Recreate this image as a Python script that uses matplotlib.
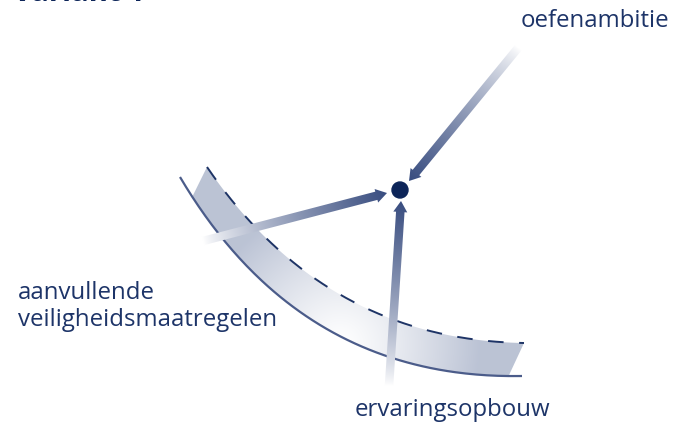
import numpy as np
import matplotlib
matplotlib.use("Agg")
import matplotlib.pyplot as plt
from matplotlib.patches import Polygon, Circle

# labels of the diagram
title = "Variant 1"
labels = ["oefenambitie", "aanvullende\nveiligheidsmaatregelen", "ervaringsopbouw"]

# geometry (pixel space, y down)
solid_curve = [(180, 177), (300, 380), (522, 376)]      # quadratic bezier
dashed_curve = [(207, 167), (325, 340), (524, 343)]     # quadratic bezier
target = (400, 190)
arrow_tails = [(518, 48), (203, 241), (389, 386)]
arrow_tips = [(409, 181), (387, 193), (401, 201)]

NAVY = "#0d2559"
TEXT = "#1d3468"
ARROW = np.array([0.22, 0.30, 0.50])
BAND = np.array([0.735, 0.765, 0.835])
LINE = "#4b5c8a"


def bezier(pts, t0=0.0, t1=1.0, n=200):
    p = np.array(pts, dtype=float)
    t = np.linspace(t0, t1, n)[:, None]
    return (1 - t) ** 2 * p[0] + 2 * t * (1 - t) * p[1] + t ** 2 * p[2]


def grad_fill(ax, patch, func, extent):
    x0, x1, y0, y1 = extent
    xs = np.linspace(x0, x1, 300)
    ys = np.linspace(y0, y1, 300)
    X, Y = np.meshgrid(xs, ys)
    img = func(X, Y)
    im = ax.imshow(img, extent=(x0, x1, y1, y0), origin="upper",
                   aspect="auto", interpolation="bilinear", zorder=patch.get_zorder())
    im.set_clip_path(patch)


def grad_arrow(ax, tail, tip, w=8.5, hw=14, hl=11):
    tail = np.array(tail, float)
    tip = np.array(tip, float)
    d = tip - tail
    L = np.hypot(*d)
    u = d / L
    n = np.array([-u[1], u[0]])
    base = tip - u * hl
    pts = [tail + n * w / 2, base + n * w / 2, base + n * hw / 2, tip,
           base - n * hw / 2, base - n * w / 2, tail - n * w / 2]
    patch = Polygon(pts, closed=True, facecolor="none", edgecolor="none", zorder=4)
    ax.add_patch(patch)
    xs = [p[0] for p in pts]
    ys = [p[1] for p in pts]

    def f(X, Y):
        t = ((X - tail[0]) * u[0] + (Y - tail[1]) * u[1]) / L
        t = np.clip(t, 0, 1) ** 0.8
        return (1 - t[..., None]) * 1.0 + t[..., None] * ARROW

    grad_fill(ax, patch, f, (min(xs) - 2, max(xs) + 2, min(ys) - 2, max(ys) + 2))


fig = plt.figure(figsize=(6.75, 4.25), dpi=100)
ax = fig.add_axes([0, 0, 1, 1])
ax.axis("off")

# shaded band between the dashed and solid curves
top = bezier(dashed_curve)
bottom = bezier(solid_curve, 0.05, 0.97)
band_pts = np.vstack([top, [[510, 373]], bottom[::-1]])
band = Polygon(band_pts, closed=True, facecolor="none", edgecolor="none", zorder=1)
ax.add_patch(band)


def band_color(X, Y):
    r = np.hypot(X - 340, Y - 345)
    w = np.clip(r / 140, 0, 1) ** 1.2
    return (1 - w[..., None]) * 1.0 + w[..., None] * BAND


grad_fill(ax, band, band_color, (170, 540, 150, 390))

ax.plot(top[:, 0], top[:, 1], color="#1e3466", lw=1.4, dashes=[8, 8], zorder=2)
sc = bezier(solid_curve)
ax.plot(sc[:, 0], sc[:, 1], color=LINE, lw=1.6, solid_capstyle="butt", zorder=3)

for tl, tp in zip(arrow_tails, arrow_tips):
    grad_arrow(ax, tl, tp)

ax.add_patch(Circle(target, 8, color=NAVY, zorder=5))

font = "Open Sans"
fs = 17.3
ax.text(669, 27, labels[0], ha="right", va="baseline", fontsize=fs,
        color=TEXT, family=font)
ax.text(18, 326, labels[1], ha="left", va="baseline", fontsize=fs,
        color=TEXT, family=font, linespacing=1.15)
ax.text(355, 416, labels[2], ha="left", va="baseline", fontsize=fs,
        color=TEXT, family=font)
# page title, mostly above the visible area
ax.text(13, 1, title, ha="left", va="baseline", fontsize=21,
        fontweight="bold", color=NAVY, family=font)

ax.set_xlim(0, 675)
ax.set_ylim(425, 0)
fig.savefig("out.png", dpi=100)
